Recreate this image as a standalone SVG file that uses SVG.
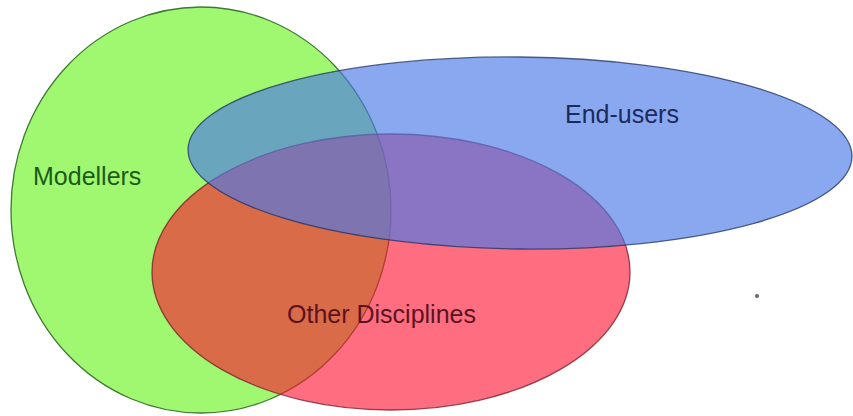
<svg xmlns="http://www.w3.org/2000/svg" width="853" height="416" viewBox="0 0 853 416">
<style>
.lbl{font-family:"Liberation Sans",Arial,sans-serif;font-size:25px}
.set{stroke-width:1.3}
</style>
<rect width="853" height="416" fill="#ffffff"/>
<g id="modellers">
<ellipse class="set" cx="201" cy="210" rx="190" ry="203" fill="#a0f870" stroke="#3f7a35"/>
</g>
<g id="other-disciplines">
<ellipse class="set" cx="391" cy="272" rx="239" ry="138" fill="#fd1532" fill-opacity="0.62" stroke="#7a1f2c" stroke-opacity="0.8"/>
</g>
<g id="end-users">
<ellipse class="set" cx="520" cy="153" rx="332" ry="96" transform="rotate(0.6 520 153)" fill="#4b7ae8" fill-opacity="0.65" stroke="#1f3060" stroke-opacity="0.75"/>
</g>
<g id="labels">
<text class="lbl" x="33" y="185" fill="#1d5a1a">Modellers</text>
<text class="lbl" x="565" y="123" fill="#1c2a5c">End-users</text>
<text class="lbl" x="287" y="323" fill="#5a1420">Other Disciplines</text>
</g>
<circle cx="757" cy="296" r="2" fill="#666666"/>
</svg>
